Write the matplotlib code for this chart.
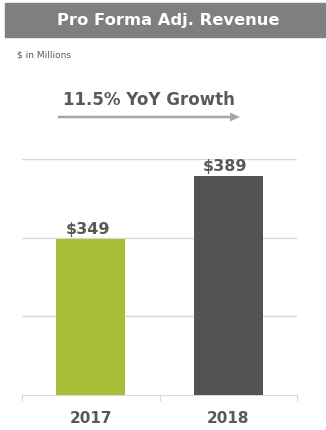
import matplotlib
matplotlib.use('Agg')
import matplotlib.pyplot as plt
from matplotlib.patches import Rectangle

# Revenue par année ($ en millions)
years = ["2017", "2018"]
revenue = [349, 389]
bar_colors = ["#a8bf3a", "#535353"]
growth_label = "11.5% YoY Growth"

text_gray = "#595959"
grid_gray = "#d9d9d9"

fig = plt.figure(figsize=(3.26, 4.31), dpi=100)

# Bandeau de titre
fig.patches.append(Rectangle((5 / 326, 1 - 38 / 431), 320 / 326, 34 / 431,
                             transform=fig.transFigure, color="#7f7f7f", zorder=0))
fig.text(168 / 326, 1 - 21 / 431, "Pro Forma Adj. Revenue", color="white",
         fontsize=11.8, fontweight="bold", ha="center", va="center")
fig.text(17 / 326, 1 - 55 / 431, "$ in Millions", color=text_gray,
         fontsize=6.5, ha="left", va="center")

# Croissance + flèche
fig.text(149 / 326, 1 - 100 / 431, growth_label, color=text_gray,
         fontsize=12, fontweight="bold", ha="center", va="center")
fig.patches.append(matplotlib.patches.FancyArrow(
    58 / 326, 1 - 118 / 431, 182 / 326, 0, width=2.5 / 431,
    head_width=9 / 431, head_length=10 / 326, length_includes_head=True,
    transform=fig.transFigure, color="#a6a6a6", lw=0))

ax = fig.add_axes([22 / 326, 1 - 396 / 431, 275 / 326, 236 / 431])
x = range(len(years))
bars = ax.bar(x, revenue, width=0.5, color=bar_colors, zorder=3)
for b, v in zip(bars, revenue):
    ax.text(b.get_x() + b.get_width() / 2 - 0.02, v + 2, f"${v}", ha="center", va="bottom",
            fontsize=11.5, fontweight="bold", color=text_gray)

ax.set_ylim(250, 400)
ax.set_xlim(-0.5, 1.5)
ax.set_yticks([300, 350, 400])
ax.yaxis.grid(True, color=grid_gray, lw=1, zorder=0)
ax.tick_params(axis="y", length=0, labelleft=False)

# Ticks entre catégories sur l'axe x
ax.set_xticks([-0.5, 0.5, 1.5])
ax.set_xticklabels([])
ax.set_xticks(list(x), minor=True)
ax.set_xticklabels(years, minor=True, fontsize=11, fontweight="bold", color=text_gray)
ax.tick_params(axis="x", which="major", length=4, color=grid_gray)
ax.tick_params(axis="x", which="minor", length=0, pad=11)

for s in ["top", "left", "right"]:
    ax.spines[s].set_visible(False)
ax.spines["bottom"].set_color(grid_gray)

plt.savefig("out.png", dpi=100)
